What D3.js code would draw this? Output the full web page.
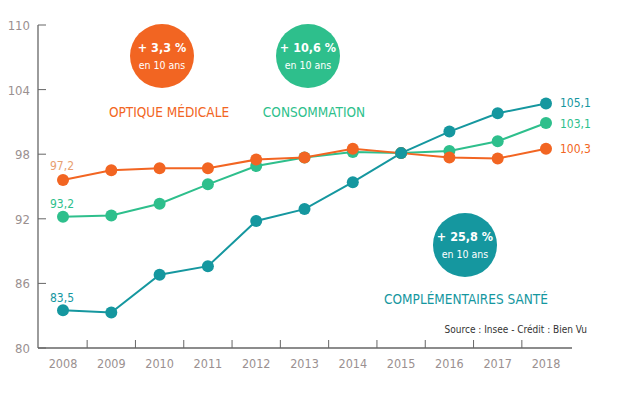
<!DOCTYPE html>
<html><head><meta charset="utf-8">
<script src="https://cdn.jsdelivr.net/npm/d3@7"></script>
<style>body{margin:0;background:#fff}text{font-family:"DejaVu Sans Condensed","Roboto",sans-serif}</style>
</head><body><div id="chart"></div>
<script>
var years = [2008,2009,2010,2011,2012,2013,2014,2015,2016,2017,2018];
var optique = [95.6,96.5,96.7,96.7,97.5,97.7,98.5,98.1,97.7,97.6,98.5];
var conso = [92.2,92.3,93.4,95.2,96.9,97.7,98.2,98.1,98.3,99.2,100.9];
var complementaires = [83.5,83.3,86.8,87.6,91.8,92.9,95.4,98.1,100.1,101.8,102.7];
var yTicks = [80,86,92,98,104,110];

var width = 618, height = 401;
var svg = d3.select("#chart").append("svg").attr("width", width).attr("height", height);

var xScale = d3.scaleLinear().domain([2008,2018]).range([63,546]);
var yScale = d3.scaleLinear().domain([80,110]).range([348,25]);
var grey = "#666", lab = "#9a9090";

// axes
svg.append("line").attr("x1",38).attr("x2",38).attr("y1",25).attr("y2",348).attr("stroke",grey).attr("stroke-width",1.3);
svg.append("line").attr("x1",38).attr("x2",572).attr("y1",348).attr("y2",348).attr("stroke",grey).attr("stroke-width",1.3);
yTicks.forEach(function(t){
  svg.append("line").attr("x1",38).attr("x2",46).attr("y1",yScale(t)).attr("y2",yScale(t)).attr("stroke",grey);
  svg.append("text").attr("x",30).attr("y",yScale(t)+5).attr("text-anchor","end").attr("fill",lab).attr("font-size",13).text(t);
});
years.forEach(function(y,i){
  if (i < years.length-1) {
    var xm = (xScale(y)+xScale(years[i+1]))/2;
    svg.append("line").attr("x1",xm).attr("x2",xm).attr("y1",348).attr("y2",340).attr("stroke",grey);
  }
  svg.append("text").attr("x",xScale(y)).attr("y",368).attr("text-anchor","middle").attr("fill",lab).attr("font-size",12.5).text(y);
});

function series(vals, color) {
  var line = d3.line().x(function(d,i){return xScale(years[i]);}).y(function(d){return yScale(d);});
  svg.append("path").datum(vals).attr("d",line).attr("fill","none").attr("stroke",color).attr("stroke-width",2);
  svg.selectAll(null).data(vals).enter().append("circle")
    .attr("cx",function(d,i){return xScale(years[i]);}).attr("cy",function(d){return yScale(d);})
    .attr("r",6).attr("fill",color);
}
var cO = "#f26522", cG = "#2ebf8c", cT = "#15979f";
series(conso, cG);
series(optique, cO);
series(complementaires, cT);

function txt(x,y,s,c,size,anchor,weight){
  svg.append("text").attr("x",x).attr("y",y).attr("fill",c).attr("font-size",size)
    .attr("text-anchor",anchor||"start").attr("font-weight",weight||"normal").text(s);
}
txt(50,170,"97,2","#e8a070",12);
txt(50,208,"93,2",cG,12);
txt(50,302,"83,5",cT,12);
txt(560,107,"105,1",cT,12);
txt(560,128,"103,1",cG,12);
txt(560,153,"100,3",cO,12);

function bubble(cx,cy,c,big){
  svg.append("circle").attr("cx",cx).attr("cy",cy).attr("r",32).attr("fill",c);
  txt(cx,cy-4,big,"#fff",12.5,"middle","bold");
  txt(cx,cy+13,"en 10 ans","#fff",10.5,"middle");
}
bubble(162,56,cO,"+ 3,3 %");
bubble(308,56,cG,"+ 10,6 %");
bubble(465,245,cT,"+ 25,8 %");
txt(169,117,"OPTIQUE MÉDICALE",cO,13.5,"middle");
txt(314,117,"CONSOMMATION",cG,13.5,"middle");
txt(466,304,"COMPLÉMENTAIRES SANTÉ",cT,13.5,"middle");
txt(587,333,"Source : Insee - Crédit : Bien Vu","#333",10,"end");
</script></body></html>
